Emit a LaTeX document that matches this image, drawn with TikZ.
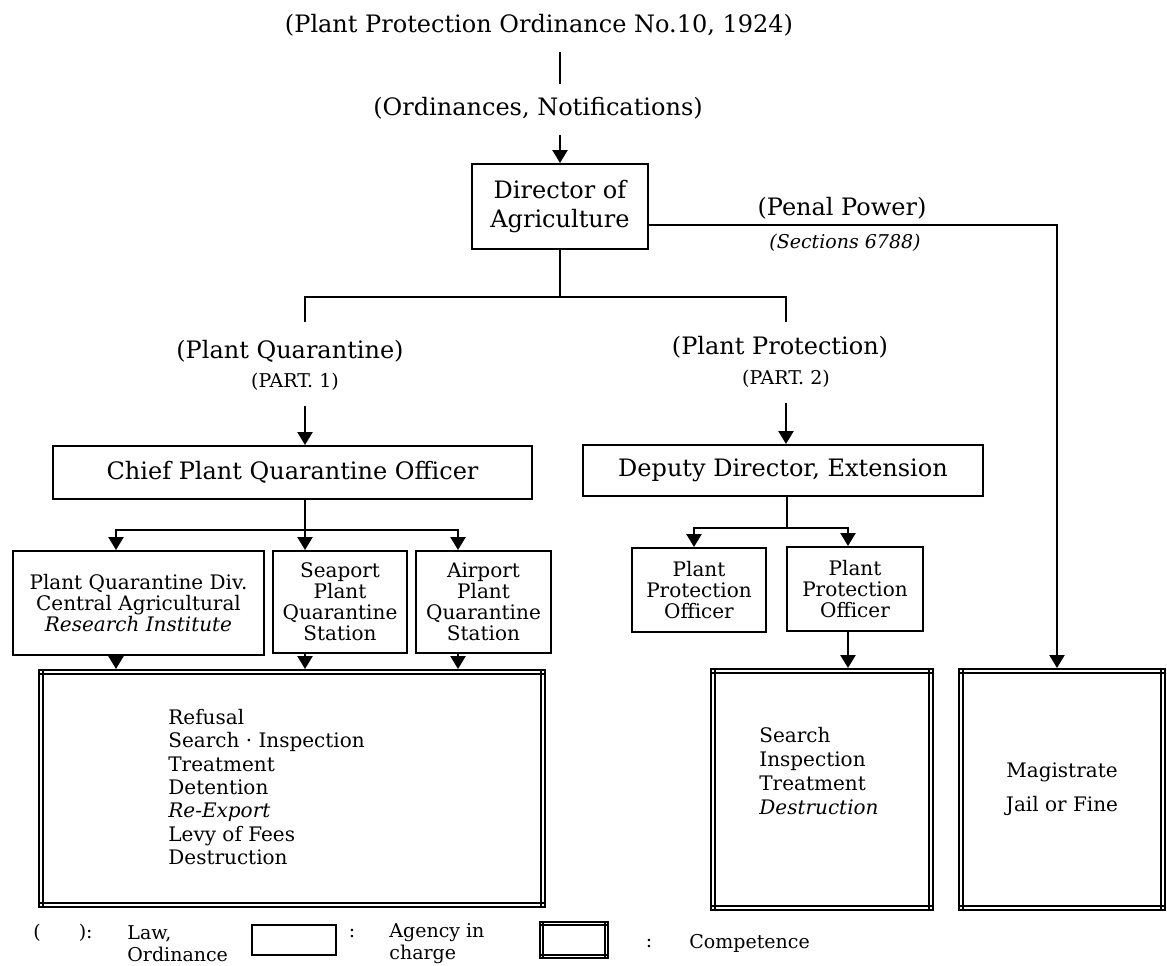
\documentclass[tikz,border=0pt]{standalone}
\usepackage{fontspec}
\setmainfont{DejaVu Serif}
\usetikzlibrary{arrows.meta}

\tikzset{
  lawtext/.style={inner sep=0pt,font=\fontsize{12}{14}\selectfont},
  parttext/.style={inner sep=0pt,font=\fontsize{9.5}{11}\selectfont},
  secttext/.style={inner sep=0pt,font=\fontsize{9.5}{11}\itshape},
  agencybig/.style={draw,line width=1pt,inner sep=0pt,align=center,font=\fontsize{12}{14.5}\selectfont},
  agency/.style={draw,line width=1pt,inner sep=0pt,align=center,font=\fontsize{10}{10.5}\selectfont},
  compet/.style={draw,line width=1pt,inner sep=0pt,align=center,font=\fontsize{10}{12}\selectfont},
  dutylist/.style={inner sep=0pt,align=left,anchor=west,font=\fontsize{10}{11.7}\selectfont},
  legendtext/.style={inner sep=0pt,align=left,font=\fontsize{9.5}{11}\selectfont},
  link/.style={line width=1.2pt},
  arr/.style={line width=1.2pt,-{Triangle[width=7.5pt,length=6.5pt]}},
}

\begin{document}
\begin{tikzpicture}[x=0.5pt,y=-0.5pt]
\useasboundingbox (0,0) rectangle (1167,965);

\node[lawtext] (act) at (539,25) {(Plant Protection Ordinance No.10, 1924)};
\node[lawtext] (ord) at (538,108) {(Ordinances, Notifications)};
\node[agencybig,minimum width=88pt,minimum height=42.5pt] (dir) at (560,206.5) {Director of\\Agriculture};
\draw[link] ([yshift=-8pt]act.south -| dir.north) -- ([yshift=6.5pt]ord.north -| dir.north);
\draw[arr] ([yshift=-8pt]ord.south -| dir.north) -- (dir.north);

\node[lawtext] (penal) at (842,208) {(Penal Power)};
\node[secttext] (sect) at (845,243) {(Sections 6788)};

\coordinate (split) at (560,297);
\coordinate (pqtop) at (305,322);
\coordinate (pptop) at (786,322);
\coordinate (pencor) at (1057,225);
\draw[link] (dir.south) -- (split);
\draw[link] (pqtop) |- (pptop |- split) -- (pptop);

\node[lawtext] (pqlbl) at (290,351) {(Plant Quarantine)};
\node[parttext] (part1) at (295,382) {(PART. 1)};
\node[lawtext] (pplbl) at (780,347) {(Plant Protection)};
\node[parttext] (part2) at (786,379) {(PART. 2)};

\node[agencybig,minimum width=239.5pt,minimum height=26.5pt] (cpqo) at (292.5,472.5) {Chief Plant Quarantine Officer};
\node[agencybig,minimum width=200pt,minimum height=25.5pt] (dde) at (783,470.5) {Deputy Director, Extension};
\draw[arr] ([yshift=-7.5pt]part1.south -| pqtop) -- (cpqo.north -| pqtop);
\draw[arr] ([yshift=-7.5pt]part2.south -| pptop) -- (dde.north -| pptop);

\node[agency,minimum width=125.5pt,minimum height=52pt] (pqd) at (138.5,603) {Plant Quarantine Div.\\Central Agricultural\\\textit{Research Institute}};
\node[agency,minimum width=67pt,minimum height=51pt] (sea) at (340,602) {Seaport\\Plant\\Quarantine\\Station};
\node[agency,minimum width=67.5pt,minimum height=51pt] (air) at (483.5,602) {Airport\\Plant\\Quarantine\\Station};
\node[agency,minimum width=67pt,minimum height=42pt] (ppo1) at (699,590) {Plant\\Protection\\Officer};
\node[agency,minimum width=68pt,minimum height=42pt] (ppo2) at (855,589) {Plant\\Protection\\Officer};

\coordinate (cbr) at (305,530);
\coordinate (b1) at (116,530);
\coordinate (b3) at (458,530);
\draw[arr] (cpqo.south -| cbr) -- (cbr |- sea.north);
\draw[arr] (cbr) -| (pqd.north -| b1);
\draw[arr] (cbr) -| (air.north -| b3);

\coordinate (dbr) at (787,528);
\coordinate (d1) at (694,528);
\coordinate (d2) at (848,528);
\draw[link] (dde.south -| dbr) -- (dbr);
\draw[arr] (dbr) -| (ppo1.north -| d1);
\draw[arr] (dbr) -| (ppo2.north -| d2);

\node[compet,minimum width=253pt,minimum height=118.5pt] (qcomp) at (292,788.5) {};
\node[compet,minimum width=111pt,minimum height=120.5pt] (pcomp) at (822,789.5) {};
\node[compet,minimum width=103pt,minimum height=120.5pt] (mag) at (1062,789.5) {Magistrate\\[5pt]Jail or Fine};
\node[dutylist] (qlist) at (168,787) {Refusal\\Search · Inspection\\Treatment\\Detention\\\textit{Re-Export}\\Levy of Fees\\Destruction};
\node[dutylist,font=\fontsize{10}{12}\selectfont] (plist) at (759,771) {Search\\Inspection\\Treatment\\\textit{Destruction}};

\foreach \s/\c in {pqd/b1,sea/cbr,air/b3}
  \draw[arr] (\s.south -| \c) -- (qcomp.north -| \c);
\draw[arr] (ppo2.south -| d2) -- (pcomp.north -| d2);
\draw[arr] (dir.east |- pencor) -| (mag.north -| pencor);

% legend
\node[legendtext,anchor=west] (lgpar) at (33,933) {(\hspace{19pt}):};
\node[legendtext,anchor=west] (lglaw) at (127,944) {Law,\\Ordinance};
\node[draw,line width=1pt,inner sep=0pt,minimum width=42pt,minimum height=15pt] (lgbox) at (294,940) {};
\node[legendtext] (lgcol1) at (352,933) {:};
\node[legendtext,anchor=west] (lgagency) at (389,944) {Agency in\\charge};
\node[compet,minimum width=34pt,minimum height=18pt] (lgcomp) at (574,940) {};
\node[legendtext] (lgcol2) at (649,943) {:};
\node[legendtext,anchor=west] (lgcompt) at (689,943) {Competence};

\foreach \n/\g in {qcomp/2.5pt,pcomp/2.5pt,mag/2.5pt,lgcomp/2pt}
  \draw[line width=0.8pt] ([yshift=-\g]\n.north west) -- ([yshift=-\g]\n.north east)
    ([yshift=\g]\n.south west) -- ([yshift=\g]\n.south east)
    ([xshift=\g]\n.north west) -- ([xshift=\g]\n.south west)
    ([xshift=-\g]\n.north east) -- ([xshift=-\g]\n.south east);
\end{tikzpicture}
\end{document}
